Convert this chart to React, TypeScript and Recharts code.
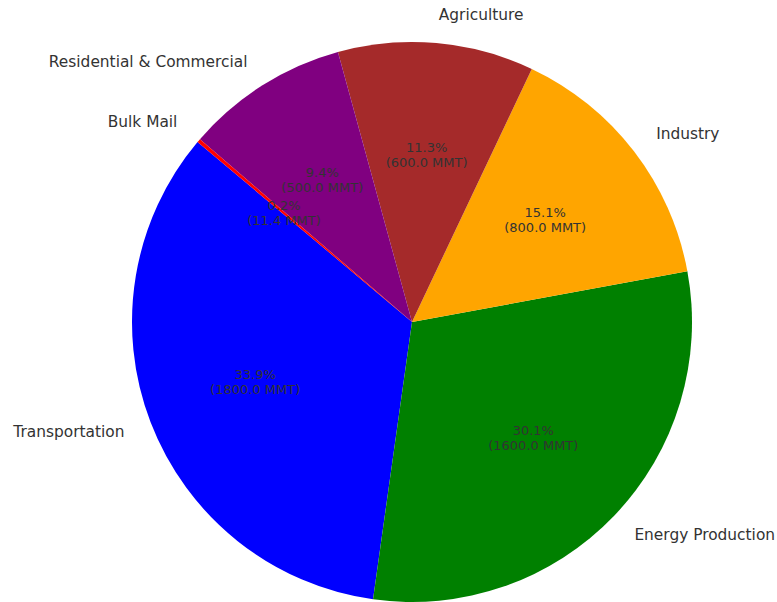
import { PieChart, Pie, Cell } from "recharts";

const sectors = [
  "Transportation",
  "Energy Production",
  "Industry",
  "Agriculture",
  "Residential & Commercial",
  "Bulk Mail",
];
const emissions = [1800, 1600, 800, 600, 500, 11.4];
const colors = ["#0000ff", "#008000", "#ffa500", "#a52a2a", "#800080", "#ff0000"];

const data = sectors.map((name, i) => ({ name, value: emissions[i] }));

const RADIAN = Math.PI / 180;
const FONT = "DejaVu Sans, sans-serif";

function renderLabel(props: any) {
  const { cx, cy, midAngle, outerRadius, percent, value, name } = props;
  const cos = Math.cos(-midAngle * RADIAN);
  const sin = Math.sin(-midAngle * RADIAN);
  const ox = cx + outerRadius * 1.1 * cos;
  const oy = cy + outerRadius * 1.1 * sin;
  const ix = cx + outerRadius * 0.6 * cos;
  const iy = cy + outerRadius * 0.6 * sin;
  return (
    <g>
      <text
        x={ox}
        y={oy}
        fill="#333"
        fontSize={15.4}
        fontFamily={FONT}
        textAnchor={cos < 0 ? "end" : "start"}
        dominantBaseline="central"
      >
        {name}
      </text>
      <text
        x={ix}
        y={iy - 7.5}
        fill="#333"
        fontSize={13}
        fontFamily={FONT}
        textAnchor="middle"
        dominantBaseline="central"
      >
        {(percent * 100).toFixed(1)}%
      </text>
      <text
        x={ix}
        y={iy + 7.5}
        fill="#333"
        fontSize={13}
        fontFamily={FONT}
        textAnchor="middle"
        dominantBaseline="central"
      >
        ({value.toFixed(1)} MMT)
      </text>
    </g>
  );
}

export default function App() {
  return (
    <div style={{ position: "absolute", left: 0, top: 0, width: 777, height: 602, background: "#fff" }}>
      <PieChart width={777} height={602} margin={{ top: 0, right: 0, bottom: 0, left: 0 }}>
        <Pie
          data={data}
          dataKey="value"
          nameKey="name"
          cx={412}
          cy={322}
          outerRadius={280}
          startAngle={140}
          endAngle={500}
          stroke="none"
          label={renderLabel}
          labelLine={false}
          isAnimationActive={false}
        >
          {data.map((d, i) => (
            <Cell key={d.name} fill={colors[i]} />
          ))}
        </Pie>
      </PieChart>
    </div>
  );
}
